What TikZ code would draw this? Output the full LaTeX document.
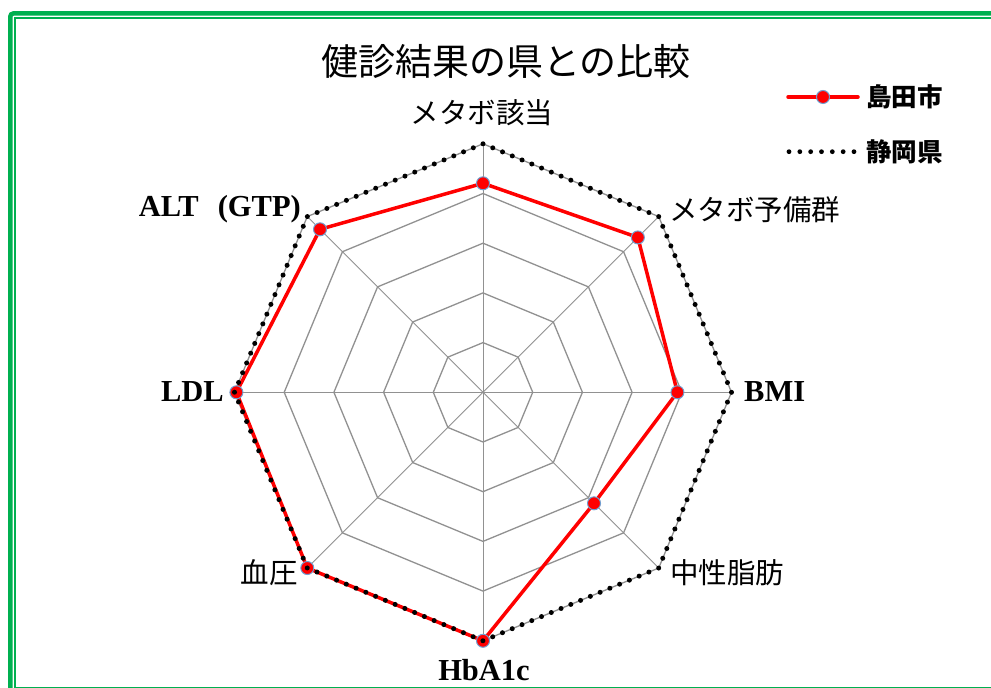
\documentclass[tikz,border=0pt]{standalone}
\usepackage{fontspec}
\setmainfont{Liberation Serif}
\newfontfamily\jp{Noto Sans CJK JP}
\definecolor{grn}{RGB}{0,176,80}
\definecolor{gridgray}{RGB}{145,145,145}
\definecolor{mkblue}{RGB}{110,160,210}
\begin{document}
\begin{tikzpicture}[x=1pt,y=1pt,
  ring/.style={draw=gridgray, line width=1.3},
  spoke/.style={draw=gridgray, line width=0.9},
  shimada/.style={draw=red, line width=3.5, line join=round},
  shizuoka/.style={draw=black, line width=5, line cap=round, dash pattern=on 0pt off 10.567pt},
  mk/.style={circle, fill=red, draw=mkblue, line width=1, minimum size=13, inner sep=0},
  jplabel/.style={inner sep=0, font=\jp\fontsize{28.5}{30}\selectfont},
  enlabel/.style={inner sep=0, font=\bfseries\fontsize{30.5}{32}\selectfont},
  legtext/.style={inner sep=0, anchor=west, font=\jp\bfseries\fontsize{25.5}{27}\selectfont}]
\useasboundingbox (0,0) rectangle (991,688);
\fill[white] (0,0) rectangle (991,688);
% frame
\draw[grn, line width=4.5, rounded corners=3] (10.3,-20) rectangle (1010,674.5);
\draw[grn, line width=1.7] (14.7,-0.3) rectangle (1010,669.8);
% title
\node[inner sep=0, font=\jp\fontsize{37}{40}\selectfont] (title) at (506,626.3) {健診結果の県との比較};
% radar
\coordinate (O) at (483,295.7);
\begin{scope}[shift={(O)}]
  \foreach \k in {1,...,5}{
    \draw[ring] (90:{49.7*\k}) -- (45:{49.7*\k}) -- (0:{49.7*\k}) -- (-45:{49.7*\k}) -- (-90:{49.7*\k}) -- (-135:{49.7*\k}) -- (180:{49.7*\k}) -- (135:{49.7*\k}) -- cycle;
  }
  \coordinate (v1) at (90:248.5);
  \coordinate (v2) at (45:248.5);
  \coordinate (v3) at (0:248.5);
  \coordinate (v4) at (-45:248.5);
  \coordinate (v5) at (-90:248.5);
  \coordinate (v6) at (-135:248.5);
  \coordinate (v7) at (180:248.5);
  \coordinate (v8) at (135:248.5);
  \coordinate (p1) at (90:209);
  \coordinate (p2) at (45:219);
  \coordinate (p3) at (0:194.4);
  \coordinate (p4) at (-45:157);
  \coordinate (p5) at (-90:248.5);
  \coordinate (p6) at (-135:248.5);
  \coordinate (p7) at (180:246.6);
  \coordinate (p8) at (135:230.5);
\end{scope}
\foreach \i in {1,...,8}{ \draw[spoke] (O) -- (v\i); }
% Shimada series
\draw[shimada] (p1) -- (p2) -- (p3) -- (p4) -- (p5) -- (p6) -- (p7) -- (p8) -- cycle;
\foreach \i in {1,...,8}{ \node[mk] (m\i) at (p\i) {}; }
% Shizuoka series
\draw[shizuoka] (v1) -- (v2) -- (v3) -- (v4) -- (v5) -- (v6) -- (v7) -- (v8) -- cycle;
% axis labels
\node[jplabel, anchor=center] (l1) at (482,575) {メタボ該当};
\node[jplabel, anchor=west] (l2) at (669,478) {メタボ予備群};
\node[enlabel, anchor=west] (l3) at (744,296) {BMI};
\node[jplabel, anchor=west] (l4) at (670,115) {中性脂肪};
\node[enlabel, anchor=center] (l5) at (484,18) {HbA1c};
\node[jplabel, anchor=east] (l6) at (298,115) {血圧};
\node[enlabel, anchor=east] (l7) at (224,296) {LDL};
\node[enlabel, anchor=east] (l8) at (301,479) {ALT\hspace{19pt}(GTP)};
% legend
\coordinate (la) at (788,591);
\coordinate (lb) at (858,591);
\coordinate (lm) at (823,591);
\draw[shimada, line cap=round] (la) -- (lb);
\node[mk] (lmk) at (lm) {};
\node[legtext] (t1) at (866,591) {島田市};
\foreach \i in {0,...,6}{ \fill[black] ({789+10.83*\i},536.3) circle (2.4); }
\node[legtext] (t2) at (866,536.3) {静岡県};
\end{tikzpicture}
\end{document}
